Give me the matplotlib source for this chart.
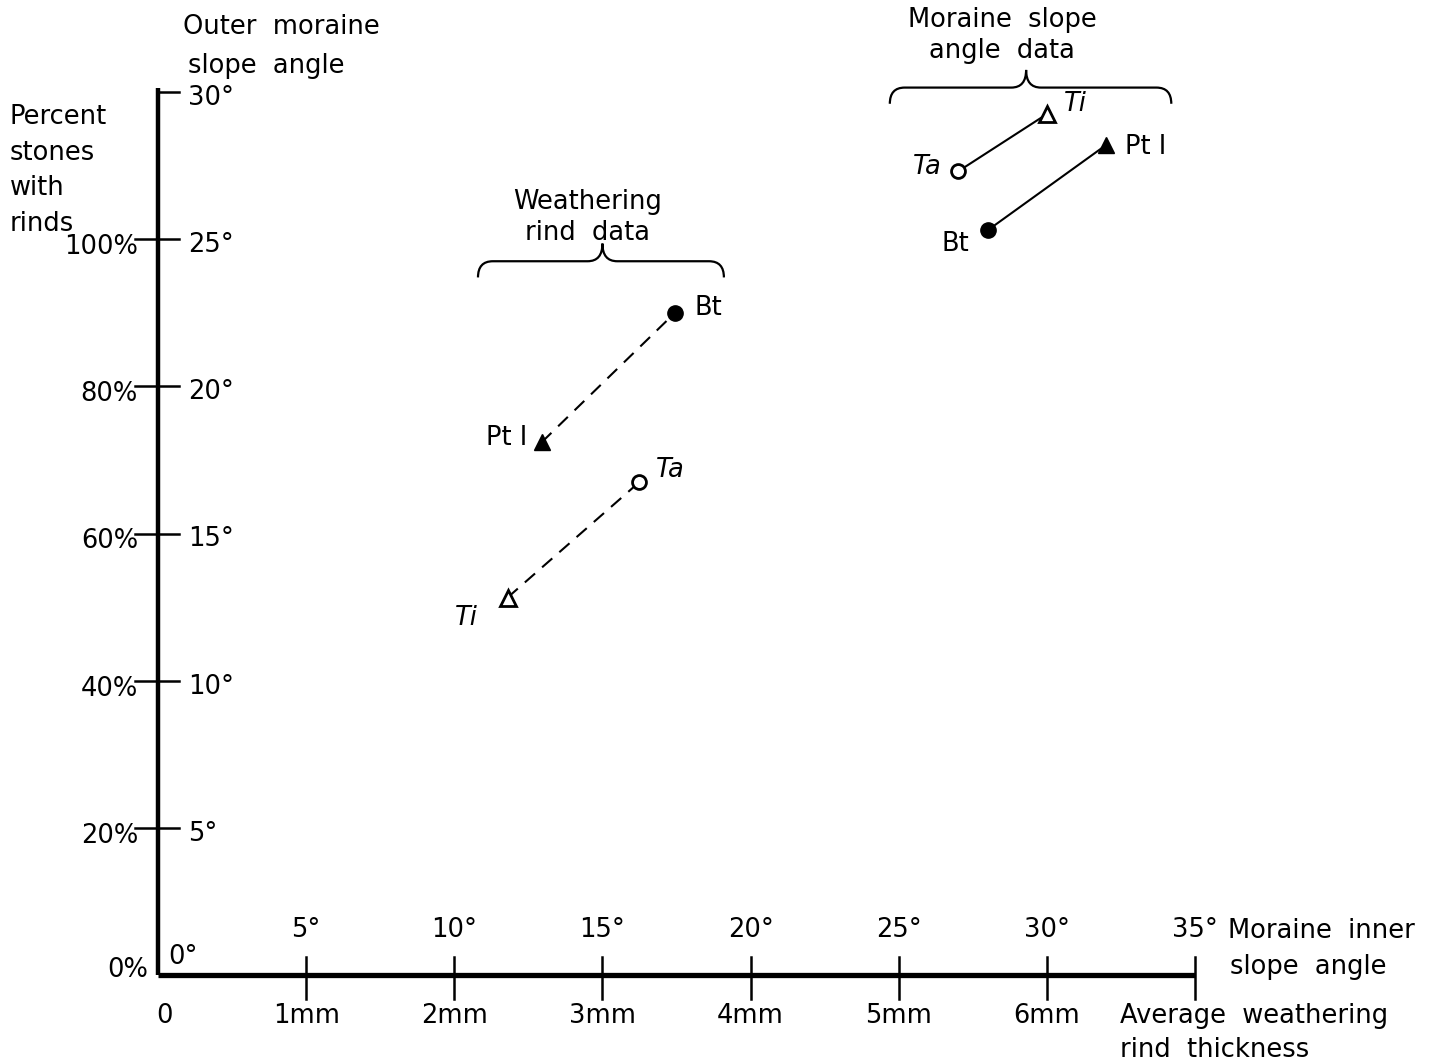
import matplotlib.pyplot as plt
from matplotlib.path import Path
from matplotlib.patches import PathPatch

# weathering rind data: thickness (mm) vs percent stones with rinds
rind_sites = ['Bt', 'Pt I', 'Ta', 'Ti']
rind_mm = [3.49, 2.59, 3.25, 2.36]
rind_pct = [90.0, 72.4, 67.0, 51.3]

# moraine slope angle data: inner slope (deg) vs outer slope (deg)
slope_sites = ['Bt', 'Pt I', 'Ta', 'Ti']
slope_inner = [28.0, 32.0, 27.0, 30.0]
slope_outer = [25.3, 28.2, 27.3, 29.25]

x_deg_ticks = [5, 10, 15, 20, 25, 30, 35]
x_mm_labels = ['1mm', '2mm', '3mm', '4mm', '5mm', '6mm']
y_deg_ticks = [5, 10, 15, 20, 25, 30]
y_pct_labels = ['20%', '40%', '60%', '80%', '100%']

markers = {'Bt': dict(marker='o', mfc='black', ms=11),
           'Pt I': dict(marker='^', mfc='black', ms=12),
           'Ta': dict(marker='o', mfc='white', ms=10, mew=2),
           'Ti': dict(marker='^', mfc='white', ms=12, mew=2)}

FS = 18.5
fig = plt.figure(figsize=(14.5, 10.64), dpi=100)
ax = fig.add_axes([158 / 1450, 89 / 1064, 1037 / 1450, 883 / 1064])
ax.set_xlim(0, 35)
ax.set_ylim(0, 30)
ax.axis('off')

def lab(x, y, s, dx, dy, ha='left', style='normal'):
    ax.annotate(s, (x, y), xytext=(dx, dy), textcoords='offset pixels',
                ha=ha, va='center', fontsize=FS, fontstyle=style,
                annotation_clip=False)

# axes
ax.plot([0, 0], [0, 30.15], color='black', lw=3.2, clip_on=False, solid_capstyle='butt')
ax.plot([0, 35], [0, 0], color='black', lw=3.8, clip_on=False, solid_capstyle='butt')

# y ticks
for i, v in enumerate(y_deg_ticks):
    x0 = 0 if v == 30 else -0.78
    ax.plot([x0, 0.7], [v, v], color='black', lw=1.8, clip_on=False)
    lab(0, v, f'{v}°', 30, -6)
    if i < len(y_pct_labels):
        lab(0, v, y_pct_labels[i], -20, -8, ha='right')
lab(0, 0, '0%', -10, 5, ha='right')
lab(0, 0, '0°', 10, 18)

# x ticks
for i, v in enumerate(x_deg_ticks):
    ax.plot([v, v], [0.6, -0.8], color='black', lw=1.8, clip_on=False)
    lab(v, 0, f'{v}°', 0, 45, ha='center')
    if i < len(x_mm_labels):
        lab(v, 0, x_mm_labels[i], 0, -41, ha='center')
lab(0, 0, '0', 7, -41, ha='center')

# axis titles
lab(35, 0, 'Moraine  inner', 33, 44)
lab(35, 0, 'slope  angle', 35, 8)
lab(35, 0, 'Average  weathering', -75, -41)
lab(35, 0, 'rind  thickness', -75, -75)
lab(0, 30, 'Outer  moraine', 25, 65)
lab(0, 30, 'slope  angle', 30, 26)
ax.annotate('Percent\nstones\nwith\nrinds', (0, 30), xytext=(-148, -12),
            textcoords='offset pixels', ha='left', va='top', fontsize=FS,
            linespacing=1.48, annotation_clip=False)

# weathering rind data (mm -> deg scale, % -> deg scale)
rx = {s: m * 5 for s, m in zip(rind_sites, rind_mm)}
ry = {s: p * 0.25 for s, p in zip(rind_sites, rind_pct)}
for a, b in [('Pt I', 'Bt'), ('Ti', 'Ta')]:
    ax.plot([rx[a], rx[b]], [ry[a], ry[b]], color='black', lw=1.5,
            linestyle=(0, (6.5, 4.5)), clip_on=False)
for s in rind_sites:
    ax.plot(rx[s], ry[s], color='black', mec='black', clip_on=False, zorder=3, **markers[s])
lab(rx['Bt'], ry['Bt'], 'Bt', 19, 5)
lab(rx['Pt I'], ry['Pt I'], 'Pt I', -14, 4, ha='right')
lab(rx['Ta'], ry['Ta'], 'Ta', 16, 12, style='italic')
lab(rx['Ti'], ry['Ti'], 'Ti', -30, -20, ha='right', style='italic')

# moraine slope angle data
sx = dict(zip(slope_sites, slope_inner))
sy = dict(zip(slope_sites, slope_outer))
for a, b in [('Ta', 'Ti'), ('Bt', 'Pt I')]:
    ax.plot([sx[a], sx[b]], [sy[a], sy[b]], color='black', lw=1.5, clip_on=False)
for s in slope_sites:
    ax.plot(sx[s], sy[s], color='black', mec='black', clip_on=False, zorder=3, **markers[s])
lab(sx['Ti'], sy['Ti'], 'Ti', 17, 10, style='italic')
lab(sx['Pt I'], sy['Pt I'], 'Pt I', 19, -2)
lab(sx['Ta'], sy['Ta'], 'Ta', -16, 4, ha='right', style='italic')
lab(sx['Bt'], sy['Bt'], 'Bt', -18, -14, ha='right')

# braces
def brace(x0, x1, xc, yb, d=0.55, h=0.6):
    r = 0.5
    verts = [(x0, yb - d), (x0, yb), (x0 + r, yb),
             (xc - r, yb), (xc, yb), (xc, yb + h),
             (xc, yb), (xc + r, yb),
             (x1 - r, yb), (x1, yb), (x1, yb - d)]
    codes = [Path.MOVETO, Path.CURVE3, Path.CURVE3,
             Path.LINETO, Path.CURVE3, Path.CURVE3,
             Path.CURVE3, Path.CURVE3,
             Path.LINETO, Path.CURVE3, Path.CURVE3]
    ax.add_patch(PathPatch(Path(verts, codes), fill=False, lw=1.6,
                           edgecolor='black', clip_on=False))

brace(10.8, 19.1, 15.0, 24.25)
brace(24.7, 34.2, 29.3, 30.15)
ax.text(14.5, 24.78, 'Weathering\nrind  data', ha='center', va='bottom',
        fontsize=FS, linespacing=1.25)
ax.text(28.5, 30.95, 'Moraine  slope\nangle  data', ha='center', va='bottom',
        fontsize=FS, linespacing=1.25)

fig.savefig('out.png', dpi=100, facecolor='white')
